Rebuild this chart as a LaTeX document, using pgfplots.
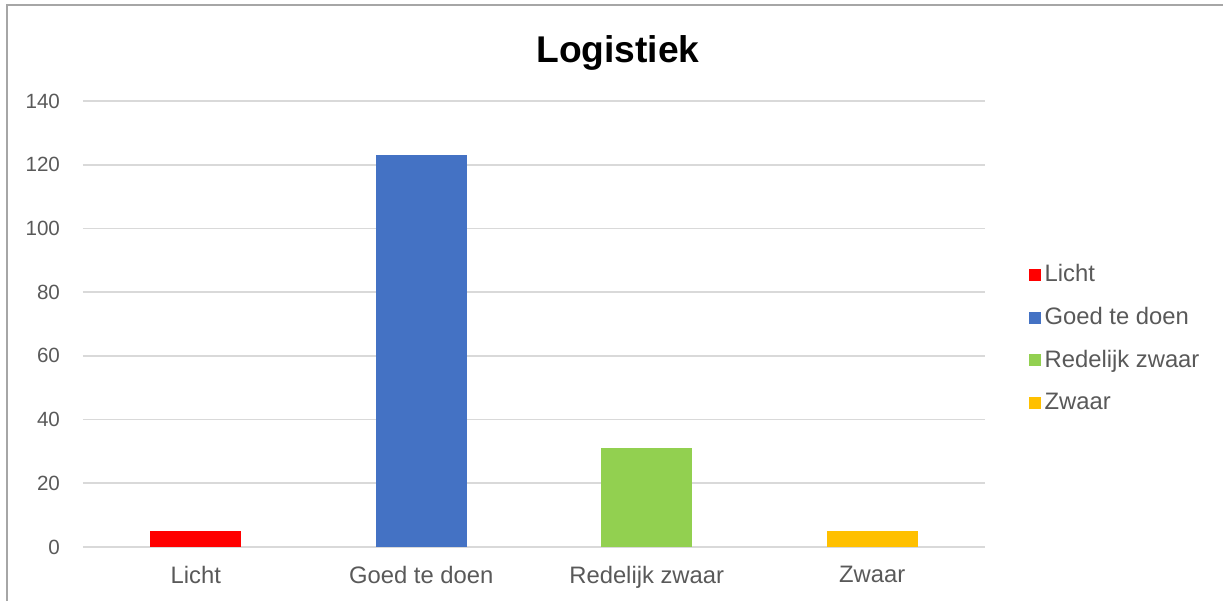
\documentclass[border=0pt]{standalone}
\usepackage{pgfplots}
\pgfplotsset{compat=1.18}
\usepackage{fontspec}
\setmainfont{Liberation Sans}
\definecolor{txt}{HTML}{595959}
\definecolor{gridc}{HTML}{D9D9D9}
\definecolor{cLicht}{HTML}{FF0000}
\definecolor{cGoed}{HTML}{4472C4}
\definecolor{cRed}{HTML}{92D050}
\definecolor{cZwaar}{HTML}{FFC000}

\begin{document}
\begin{tikzpicture}
\useasboundingbox (-41.5pt,-27pt) rectangle (570pt,273.5pt);
\draw[color=black!35, line width=0.8pt] (-38pt,-27pt) -- (-38pt,271pt) -- (570pt,271pt);
\begin{axis}[
    at={(0,0)}, anchor=south west,
    scale only axis,
    width=451pt, height=223pt,
    ybar, bar width=0.404,
    bar shift=0pt,
    xmin=-0.5, xmax=3.5,
    ymin=0, ymax=140,
    ytick={0,20,...,140},
    xtick={0,1,2,3},
    xticklabels={Licht, Goed te doen, Redelijk zwaar, Zwaar},
    axis line style={draw=none},
    major tick length=0pt,
    ymajorgrids, grid style={gridc, line width=0.8pt},
    tick label style={text=txt},
    /pgf/number format/assume math mode=true,
    yticklabel style={font=\fontsize{10.3}{12}\selectfont, xshift=-8pt},
    xticklabel style={font=\fontsize{11.9}{13}\selectfont, yshift=-6pt},
    title={\bfseries Logistiek},
    title style={font=\fontsize{18.6}{21}\selectfont, text=black, xshift=42pt, yshift=6pt},
    legend style={at={(1.048,0.4675)}, anchor=west, draw=none,
        font=\fontsize{11.9}{13}\selectfont, text=txt, row sep=7.3pt,
        inner sep=0pt},
    legend cell align=left,
    legend image code/.code={\fill[#1] (-1.5pt,-3pt) rectangle (4.5pt,3pt);},
]
\addplot[fill=cLicht, draw=none] coordinates {(0,5)};
\addplot[fill=cGoed, draw=none] coordinates {(1,123)};
\addplot[fill=cRed, draw=none] coordinates {(2,31)};
\addplot[fill=cZwaar, draw=none] coordinates {(3,5)};
\legend{Licht, Goed te doen, Redelijk zwaar, Zwaar}
\end{axis}
\end{tikzpicture}
\end{document}
